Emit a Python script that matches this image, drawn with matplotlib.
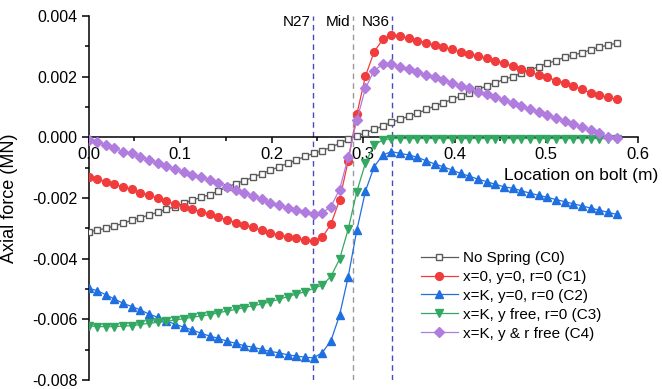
import matplotlib
matplotlib.use('Agg')
import matplotlib.pyplot as plt
from matplotlib.ticker import MultipleLocator, FormatStrFormatter
import numpy as np

plt.rcParams['font.family'] = ['Liberation Sans', 'DejaVu Sans']
plt.rcParams['axes.unicode_minus'] = False

# 62 nodes along the bolt
node_spacing = 0.00946
location = np.arange(62) * node_spacing

# axial force, in 1e-3 MN
c0 = [-3.11, -3.06, -3.00, -2.92, -2.84, -2.73, -2.65, -2.56, -2.47, -2.37, -2.29, -2.18, -2.07, -1.98,
      -1.89, -1.77, -1.64, -1.53, -1.43, -1.32, -1.20, -1.09, -0.97, -0.86, -0.75, -0.63, -0.53,
      -0.44, -0.33, -0.20, -0.07, 0.04, 0.15, 0.26, 0.37, 0.49, 0.59,
      0.70, 0.79, 0.92, 1.03, 1.14, 1.25, 1.36, 1.47, 1.58, 1.69, 1.80, 1.91, 2.00,
      2.11, 2.22, 2.33, 2.44, 2.53, 2.64, 2.71, 2.79, 2.88, 2.97, 3.04, 3.10]
c1 = [-1.30, -1.38, -1.46, -1.55, -1.63, -1.71, -1.83, -1.90, -2.00, -2.10, -2.21, -2.29, -2.37, -2.45,
      -2.54, -2.63, -2.72, -2.81, -2.89, -2.97, -3.07, -3.16, -3.22, -3.28, -3.33, -3.38, -3.41,
      -3.30, -2.87, -2.07, -0.78, 0.76, 2.02, 2.82, 3.23,
      3.36, 3.34, 3.26, 3.19, 3.12, 3.04, 2.97, 2.90, 2.82, 2.75, 2.68, 2.60, 2.53, 2.44, 2.35,
      2.24, 2.16, 2.05, 1.98, 1.87, 1.80, 1.69, 1.58, 1.47, 1.39, 1.32, 1.25]
c2 = [-4.98, -5.05, -5.19, -5.33, -5.47, -5.58, -5.69, -5.83, -5.93, -6.05, -6.16, -6.26, -6.35, -6.46,
      -6.55, -6.63, -6.72, -6.79, -6.87, -6.92, -6.99, -7.06, -7.10, -7.17, -7.21, -7.25, -7.27,
      -7.10, -6.71, -5.87, -4.60, -3.06, -1.77, -0.97, -0.58,
      -0.47, -0.53, -0.58, -0.66, -0.77, -0.88, -0.97, -1.08, -1.19, -1.28, -1.38, -1.46, -1.55, -1.63,
      -1.68, -1.76, -1.84, -1.91, -1.98, -2.05, -2.12, -2.19, -2.26, -2.33, -2.40, -2.47, -2.54]
c3 = [-6.21, -6.24, -6.24, -6.24, -6.22, -6.21, -6.17, -6.13, -6.10, -6.07, -6.02, -5.98, -5.93, -5.89,
      -5.85, -5.78, -5.73, -5.67, -5.61, -5.55, -5.50, -5.42, -5.34, -5.25, -5.17, -5.09, -4.98,
      -4.87, -4.59, -4.02, -3.03, -1.79, -0.84, -0.25, -0.09,
      -0.04, -0.04, -0.04, -0.04, -0.04, -0.04, -0.04, -0.04, -0.04, -0.04, -0.04, -0.04, -0.04, -0.04,
      -0.04, -0.04, -0.04, -0.04, -0.04, -0.04, -0.04, -0.04, -0.04, -0.04, -0.04, -0.04, -0.04]
c4 = [-0.09, -0.14, -0.25, -0.36, -0.47, -0.53, -0.64, -0.75, -0.84, -0.95, -1.06, -1.15, -1.24,
      -1.32, -1.41, -1.52, -1.63, -1.74, -1.83, -1.94, -2.04, -2.16, -2.23, -2.34, -2.40, -2.47, -2.52,
      -2.49, -2.29, -1.72, -0.66, 0.57, 1.62, 2.20, 2.41,
      2.41, 2.33, 2.24, 2.16, 2.05, 1.98, 1.89, 1.80, 1.70, 1.62, 1.50, 1.43, 1.32, 1.23, 1.12,
      1.03, 0.92, 0.84, 0.74, 0.63, 0.55, 0.44, 0.33, 0.24, 0.13, 0.02, -0.02]
labels = ['No Spring (C0)', 'x=0, y=0, r=0 (C1)', 'x=K, y=0, r=0 (C2)',
          'x=K, y free, r=0 (C3)', 'x=K, y & r free (C4)']

ref_names = ['N27', 'Mid', 'N36']
ref_locs = [0.2453, 0.2891, 0.3317]

styles = [
    dict(color='#5a5a5a', marker='s', mfc='white', mec='#5a5a5a', ms=4.3, mew=1.0),
    dict(color='#f03c3c', marker='o', ms=5.6),
    dict(color='#1f6fe0', marker='^', ms=6.2),
    dict(color='#33a862', marker='v', ms=6.2),
    dict(color='#b07ddf', marker='D', ms=4.8),
]
ref_colors = ['#4848c0', '#999999', '#4848c0']

fig = plt.figure(figsize=(6.62, 3.89), dpi=100)
ax = fig.add_axes([88.5 / 662, 1 - 380 / 389, 549 / 662, 364 / 389])

for x, name, c in zip(ref_locs, ref_names, ref_colors):
    ax.axvline(x, color=c, lw=1.0, ls=(0, (4, 3)), zorder=1)
    ax.text(x - 0.003, 0.0038, name, ha='right', va='center', fontsize=11)

for vals, lab, s in zip([c0, c1, c2, c3, c4], labels, styles):
    ax.plot(location, np.array(vals) * 1e-3, lw=0.9, label=lab, zorder=3, **s)

ax.set_xlim(0, 0.6)
ax.set_ylim(-0.008, 0.004)
ax.spines['top'].set_visible(False)
ax.spines['right'].set_visible(False)
ax.spines['bottom'].set_position(('data', 0))
for sp in ['left', 'bottom']:
    ax.spines[sp].set_linewidth(1.1)

ax.xaxis.set_major_locator(MultipleLocator(0.1))
ax.xaxis.set_minor_locator(MultipleLocator(0.05))
ax.yaxis.set_major_locator(MultipleLocator(0.002))
ax.yaxis.set_minor_locator(MultipleLocator(0.001))
ax.xaxis.set_major_formatter(FormatStrFormatter('%.1f'))
ax.yaxis.set_major_formatter(FormatStrFormatter('%.3f'))
ax.tick_params(axis='y', which='major', length=5, width=1.1, labelsize=11.5, pad=3)
ax.tick_params(axis='y', which='minor', length=3, width=1.1)
ax.tick_params(axis='x', which='major', length=4, width=1.1, labelsize=12, pad=3)
ax.tick_params(axis='x', which='minor', length=3, width=1.1)

ax.set_ylabel('Axial force (MN)', fontsize=13)
ax.yaxis.set_label_coords(-0.128, 0.5)
ax.set_xlabel('Location on bolt (m)', fontsize=12.5)
ax.xaxis.set_label_coords(0.897, 0.582)

ax.legend(loc='upper left', bbox_to_anchor=(421 / 662, 1 - 251 / 389), bbox_transform=fig.transFigure,
          frameon=False, fontsize=11, handlelength=2.4, handletextpad=0.35, labelspacing=0.32,
          borderpad=0, borderaxespad=0)

fig.savefig('out.png', dpi=100)
